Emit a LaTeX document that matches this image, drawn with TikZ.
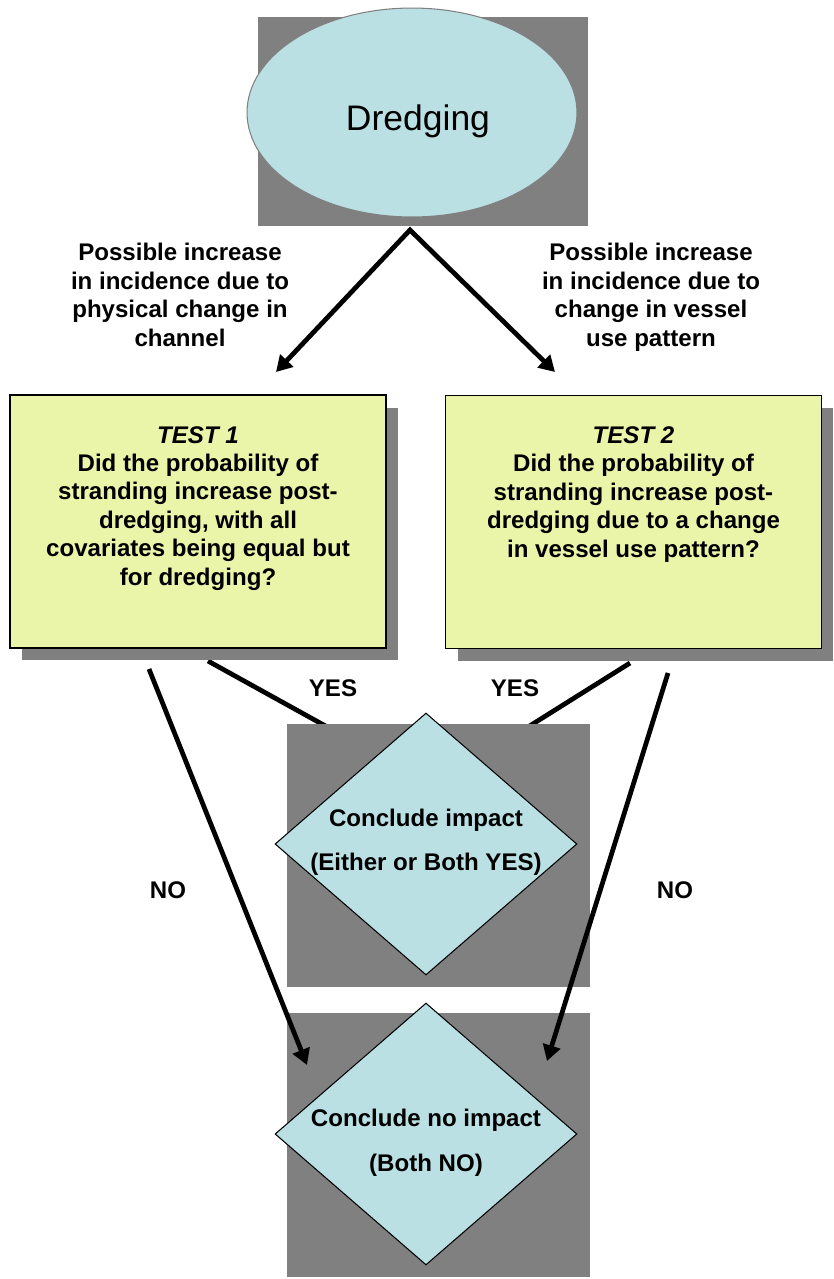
\documentclass[tikz,border=0pt]{standalone}
\usepackage{fontspec}
\setmainfont{Liberation Sans}
\usetikzlibrary{positioning,shapes.geometric,shadows,arrows.meta}
\definecolor{shadowgray}{RGB}{128,128,128}
\definecolor{paleblue}{RGB}{186,224,228}
\definecolor{paleyellow}{RGB}{234,245,170}
\newcommand{\flowfont}{\fontsize{13.7}{16.2}\selectfont\bfseries}
\begin{document}
\begin{tikzpicture}[x=0.02cm,y=-0.02cm,
  backdrop/.style={rectangle,fill=shadowgray,inner sep=0,minimum width=6.06cm,minimum height=5.26cm},
  testbox/.style={rectangle,draw=black,line width=1pt,fill=paleyellow,inner sep=0,
    minimum width=7.52cm,minimum height=5.06cm,
    drop shadow={shadow xshift=0.24cm,shadow yshift=-0.25cm,fill=shadowgray,opacity=1}},
  decide/.style={diamond,draw=black,line width=0.6pt,fill=paleblue,inner sep=0,
    minimum width=6.04cm,minimum height=5.24cm},
  flowtext/.style={align=center,inner sep=0,font=\flowfont},
  thickline/.style={line width=2.7pt},
  thickarrow/.style={line width=2.7pt,-{Triangle[length=9pt,width=10pt]}}]
\useasboundingbox (0,0) rectangle (834,1279);

% YES lines go in under the grey panel
\coordinate (yes1a) at (208,661);
\coordinate (yes1b) at (340,734);
\coordinate (yes2a) at (630,663);
\coordinate (yes2b) at (520,732);
\draw[thickline] (yes1a) -- (yes1b);
\draw[thickline] (yes2a) -- (yes2b);

% start
\node[backdrop,minimum width=6.6cm,minimum height=4.18cm] (dredgebg) at (423,121.5) {};
\node[ellipse,draw=shadowgray,line width=0.6pt,fill=paleblue,
  minimum width=6.6cm,minimum height=4.18cm] (dredging) at (412,112.5) {};
\node[font=\fontsize{20.2}{24}\selectfont] (dredgetext) at (418,121.5) {Dredging};

\coordinate (apex) at (410,230);
\coordinate (tip1) at (276,372);
\coordinate (tip2) at (555,372);
\draw[thickline,{Triangle[length=9pt,width=10pt]}-{Triangle[length=9pt,width=10pt]}]
  (tip1) -- (apex) -- (tip2);

\node[flowtext,anchor=north] (cause1) at (180,243)
  {Possible increase\\in incidence due to\\physical change in\\channel};
\node[flowtext,anchor=north] (cause2) at (651,243)
  {Possible increase\\in incidence due to\\change in vessel\\use pattern};

% the two tests
\node[testbox] (test1) at (198,521.5) {};
\node[flowtext,below=0.634cm of test1.north] (q1)
  {\textit{TEST 1}\\Did the probability of\\stranding increase post-\\dredging, with all\\covariates being equal but\\for dredging?};
\node[testbox] (test2) at (633.5,522) {};
\node[flowtext,below=0.634cm of test2.north] (q2)
  {\textit{TEST 2}\\Did the probability of\\stranding increase post-\\dredging due to a change\\in vessel use pattern?};

\node[flowtext] (yes1) at (333,688) {YES};
\node[flowtext] (yes2) at (515,688) {YES};
\node[flowtext] (no1) at (168,890) {NO};
\node[flowtext] (no2) at (675,890) {NO};

% outcomes
\node[backdrop] (impactbg) at (438.5,855.5) {};
\node[decide] (impact) at (426,844) {};
\node[flowtext] (impacttext) at (426,842) {Conclude impact\\[8.8pt](Either or Both YES)};

\node[backdrop,minimum height=5.28cm] (noimpactbg) at (438.5,1145) {};
\node[decide] (noimpact) at (426,1134) {};
\node[flowtext] (noimpacttext) at (426,1143) {Conclude no impact\\[9.3pt](Both NO)};

% NO arrows lie on top
\coordinate (no1a) at (149,669);
\coordinate (no1b) at (307,1065);
\coordinate (no2a) at (668,673);
\coordinate (no2b) at (547,1061);
\draw[thickarrow] (no1a) -- (no1b);
\draw[thickarrow] (no2a) -- (no2b);
\end{tikzpicture}
\end{document}
